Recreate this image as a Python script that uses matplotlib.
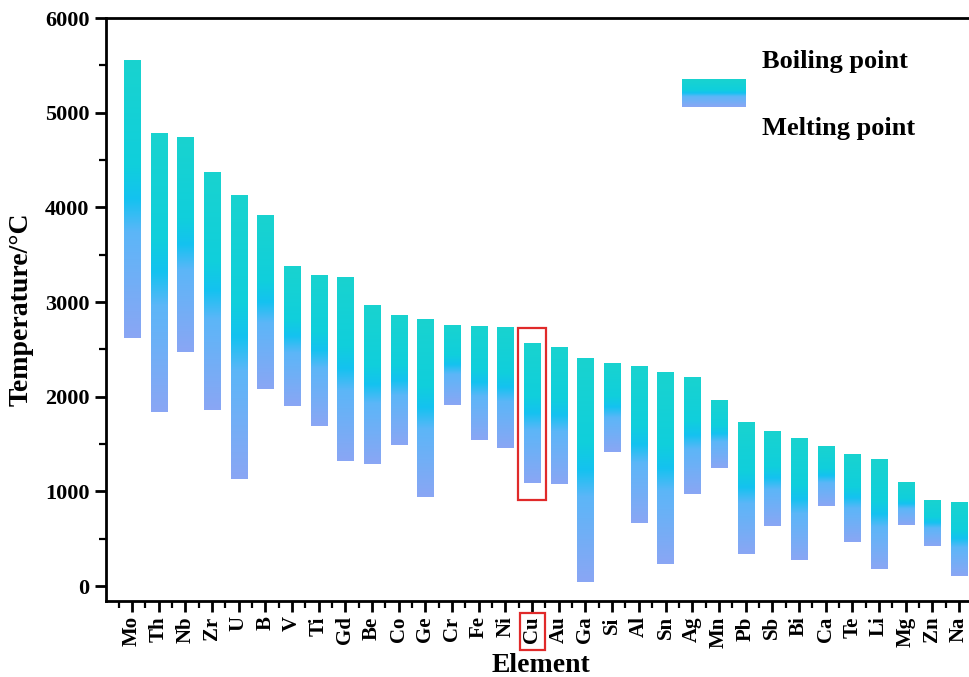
import numpy as np
import matplotlib
matplotlib.use('Agg')
from matplotlib import pyplot as plt
from matplotlib.colors import LinearSegmentedColormap
from matplotlib.patches import Rectangle
from matplotlib.ticker import MultipleLocator, FixedLocator
import matplotlib.transforms as mtransforms

elements = ['Mo', 'Th', 'Nb', 'Zr', 'U', 'B', 'V', 'Ti', 'Gd', 'Be', 'Co', 'Ge',
            'Cr', 'Fe', 'Ni', 'Cu', 'Au', 'Ga', 'Si', 'Al', 'Sn', 'Ag', 'Mn', 'Pb',
            'Sb', 'Bi', 'Ca', 'Te', 'Li', 'Mg', 'Zn', 'Na']
boiling = [5556, 4788, 4744, 4377, 4131, 3920, 3380, 3287, 3266, 2968, 2862, 2822,
           2757, 2746, 2736, 2562, 2525, 2405, 2355, 2324, 2260, 2208, 1965, 1735,
           1637, 1564, 1484, 1392, 1342, 1100, 907, 885]
melting = [2623, 1842, 2477, 1855, 1135, 2085, 1902, 1690, 1316, 1289, 1495, 938,
           1907, 1538, 1455, 1085, 1075, 40, 1414, 670, 232, 970, 1246, 335,
           631, 280, 842, 460, 185, 650, 420, 102]

plt.rcParams['font.family'] = ['Liberation Serif', 'DejaVu Serif']
plt.rcParams['font.weight'] = 'bold'

cmap = LinearSegmentedColormap.from_list('bp', [
    (0.0, '#19d3cf'), (0.38, '#10cfdc'), (0.5, '#14c2f0'),
    (0.62, '#5cb6f8'), (1.0, '#8aa6f4')])
grad = np.linspace(0, 1, 256).reshape(-1, 1)

fig = plt.figure(figsize=(9.7, 6.77), dpi=100)
ax = fig.add_axes([106/970, 76/677, 869/970, 583/677])

x = np.arange(len(elements))
bars = ax.bar(x, np.array(boiling) - np.array(melting), bottom=melting,
              width=0.6, color='none', edgecolor='none')
for b in bars:
    x0, y0 = b.get_x(), b.get_y()
    im = ax.imshow(grad, cmap=cmap, aspect='auto', origin='upper',
                   extent=[x0, x0 + b.get_width(), y0, y0 + b.get_height()],
                   interpolation='bilinear', zorder=2)
    im.set_clip_path(b)

ax.set_xlim(-0.97, 31.6)
ax.set_ylim(-158, 6000)

ax.set_xticks(x)
ax.set_xticklabels(elements, rotation=90, fontsize=15, fontweight='bold')
ax.xaxis.set_minor_locator(FixedLocator(np.arange(-0.5, 32, 1)))
ax.yaxis.set_major_locator(MultipleLocator(1000))
ax.yaxis.set_minor_locator(MultipleLocator(500))
for lab in ax.get_yticklabels():
    lab.set_fontsize(16)
    lab.set_fontweight('bold')
ax.tick_params(which='major', direction='out', length=8, width=2, pad=4)
ax.tick_params(which='minor', direction='out', length=5, width=1.6)
ax.tick_params(axis='x', which='major', pad=3)
for s in ['left', 'bottom', 'top']:
    ax.spines[s].set_linewidth(2)
ax.spines['right'].set_visible(False)

ax.set_xlabel('Element', fontsize=20, fontweight='bold', labelpad=4)
ax.set_ylabel('Temperature/°C', fontsize=20, fontweight='bold', labelpad=8)

# red boxes around Cu
icu = elements.index('Cu')
ax.add_patch(Rectangle((icu - 0.51, 908), 1.02, 2725 - 908, fill=False,
                       edgecolor='#e02a2a', linewidth=1.6, zorder=3))
trans = mtransforms.blended_transform_factory(ax.transData, ax.transAxes)
ax.add_patch(Rectangle((icu - 0.46, -0.084), 0.94, 0.064, fill=False,
                       edgecolor='#e02a2a', linewidth=1.6, transform=trans,
                       clip_on=False, zorder=3))

# legend
ax.imshow(grad, cmap=cmap, aspect='auto', origin='upper',
          extent=[0.663, 0.736, 0.847, 0.895], transform=ax.transAxes,
          interpolation='bilinear', zorder=3)
ax.text(0.755, 0.925, 'Boiling point', transform=ax.transAxes, fontsize=19,
        fontweight='bold', va='center', ha='left')
ax.text(0.755, 0.811, 'Melting point', transform=ax.transAxes, fontsize=19,
        fontweight='bold', va='center', ha='left')
ax.set_xlim(-0.97, 31.6)
ax.set_ylim(-158, 6000)

fig.savefig('out.png', dpi=100)
